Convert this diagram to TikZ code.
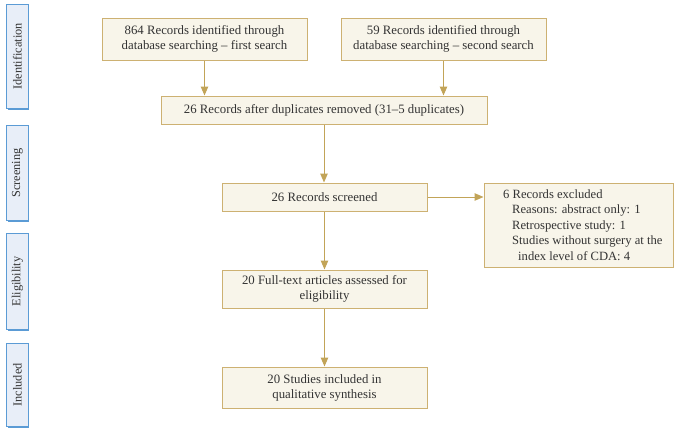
\documentclass[tikz,border=0pt]{standalone}
\usepackage{fontspec}
\setmainfont{Liberation Serif}
\usetikzlibrary{arrows.meta}
\definecolor{boxfill}{HTML}{F8F5EA}
\definecolor{boxline}{HTML}{CDB172}
\definecolor{arrowc}{HTML}{C2A458}
\definecolor{sidefill}{HTML}{E8EEF8}
\definecolor{sideline}{HTML}{5B9BD5}
\definecolor{txt}{HTML}{333333}
\begin{document}
\begin{tikzpicture}[x=1pt,y=-1pt,
  flowbox/.style={draw=boxline, line width=1pt, fill=boxfill, inner sep=0pt, align=center,
    text=txt, font=\fontsize{12.8}{15}\selectfont},
  flow/.style={draw=arrowc, line width=1pt, -{Triangle[length=9pt,width=7.5pt]}},
  sidebox/.style={draw=sideline, line width=0.8pt, fill=sidefill, inner sep=0pt}]
\useasboundingbox (0,0) rectangle (678,431);
% side boxes
\foreach \n/\t/\b/\lab in {sid/4/108/Identification, ssc/125/220/Screening, sel/233/329/Eligibility, sin/343/426/Included}{
  \fill[sideline] (7.5,\t+1.5) rectangle (29,\b+1.5);
  \node[sidebox, minimum width=22pt, minimum height={\b-\t}, anchor=north west] (\n) at (6,\t) {};
  \node[rotate=90, text=txt, font=\fontsize{12.3}{14}\selectfont] at (\n.center) {\lab};
}
% flow boxes
\node[flowbox, minimum width=205pt, minimum height=42pt] (b1) at (204.5,39) {864 Records identified through\\database searching -- first search};
\node[flowbox, minimum width=205pt, minimum height=42pt] (b2) at (443.5,39) {59 Records identified through\\database searching -- second search};
\node[flowbox, minimum width=326pt, minimum height=28pt] (dup) at (324,110) {26 Records after duplicates removed (31--5 duplicates)};
\node[flowbox, minimum width=205pt, minimum height=28pt] (scr) at (324.5,197) {26 Records screened};
\node[flowbox, minimum width=189pt, minimum height=84pt] (exc) at (578.5,225) {};
\node[anchor=north west, inner sep=0pt, align=left, text=txt, font=\fontsize{12.6}{15.5}\selectfont] (exct) at (503,189.5)
 {6 Records excluded\\
  \hspace*{9pt}Reasons: abstract only: 1\\
  \hspace*{9pt}Retrospective study: 1\\
  \hspace*{9pt}Studies without surgery at the\\
  \hspace*{15pt}index level of CDA: 4};
\node[flowbox, minimum width=205pt, minimum height=38pt] (ft) at (324.5,289) {20 Full-text articles assessed for\\eligibility};
\node[flowbox, minimum width=205pt, minimum height=41pt] (inc) at (324.5,387.5) {20 Studies included in\\qualitative synthesis};
% arrows
\draw[flow] (b1.south) -- (b1.south |- dup.north);
\draw[flow] (b2.south) -- (b2.south |- dup.north);
\draw[flow] (dup.south) -- (dup.south |- scr.north);
\draw[flow] (scr.east) -- (scr.east -| exc.west);
\draw[flow] (scr.south) -- (ft.north);
\draw[flow] (ft.south) -- (inc.north);
\end{tikzpicture}
\end{document}
